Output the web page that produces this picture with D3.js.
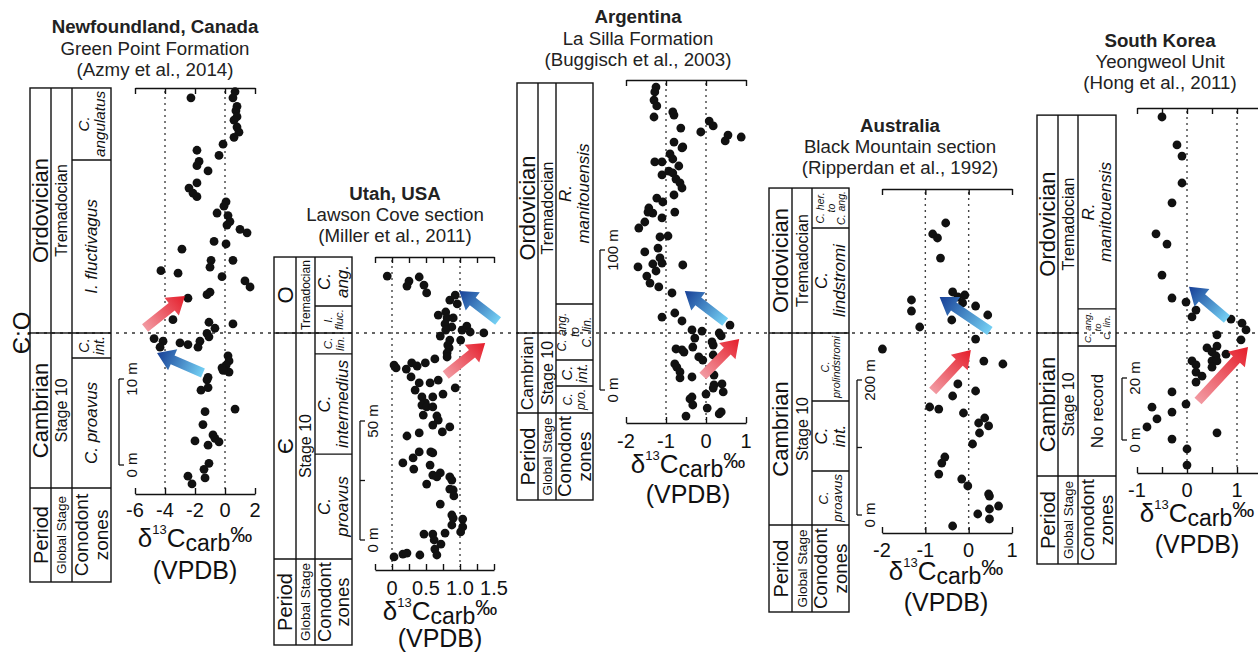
<!DOCTYPE html>
<html>
<head>
<meta charset="utf-8">
<script src="https://cdn.jsdelivr.net/npm/d3@7"></script>
<style>
  body { margin: 0; background: #fff; }
  svg { display: block; font-family: "Liberation Sans", Arial, Helvetica, sans-serif; }
</style>
</head>
<body>
<svg id="chart" width="1258" height="655"></svg>
<script>
// ---------------------------------------------------------------
// Carbon-isotope records across the Cambrian–Ordovician boundary.
// Each point: [stratigraphic height (m), δ13C carb (‰ VPDB)]
// ---------------------------------------------------------------

// Newfoundland, Green Point Formation
const nfTitle = ["Newfoundland, Canada", "Green Point Formation", "(Azmy et al., 2014)"];
const nfPoints = [
  [42.7,-2.27],[43.4,0.67],[42.7,0.53],[41.7,0.8],[41.2,0.73],[40.5,0.8],[40.1,0.6],[39.3,0.8],[38.7,0.93],[38.1,0.6],
  [37.3,-0.13],[36.0,-0.4],[36.6,-1.87],[35.3,-1.73],[34.8,-1.87],[34.2,-1.13],[32.8,-1.87],[32.2,-2.4],[31.6,-2.13],[31.2,-1.87],
  [30.6,0.07],[30.1,-0.07],[29.3,-0.53],[29.0,0.2],[28.3,0.33],[27.9,0.13],[27.4,1.0],[27.0,1.47],[26.0,-0.73],[25.7,0.07],
  [25.1,-2.87],[23.8,-0.93],[23.8,0.53],[23.0,-1.0],[22.6,-4.27],[22.3,-3.13],[21.9,-0.2],[21.4,1.33],[20.7,1.67],[20.1,-1.0],
  [19.8,-1.2],[19.4,-2.47],[16.9,-3.47],[16.6,-1.07],[16.4,0.53],[15.9,-0.67],[15.3,-1.2],[14.9,-1.07],[14.7,-4.73],[14.4,-4.13],
  [13.7,-4.33],[14.2,-3.0],[14.0,-2.47],[14.4,-1.67],[13.7,-1.8],[12.7,0.2],[12.1,0.27],[11.6,0.07],[11.3,-0.2],[10.8,0.27],
  [11.0,-0.13],[10.2,-1.13],[9.9,-1.2],[8.7,-1.6],[9.0,-1.13],[6.5,0.67],[6.2,-1.33],[4.7,-1.47],[3.5,-0.8],[3.1,-0.67],
  [2.7,-0.4],[2.8,-2.0],[2.3,-1.13],[0.2,-1.07],[-0.5,-1.4],[-1.5,-1.33],[-1.3,-2.47],[-2.2,-2.2]
];
const nfPeriods = [{ name: ["Ordovician"], top: 43.84, base: 15.35 }, { name: ["Cambrian"], top: 15.35, base: -2.67 }];
const nfStages = [{ name: ["Tremadocian"], top: 43.84, base: 15.35 }, { name: ["Stage 10"], top: 15.35, base: -2.67 }];
const nfZones = [
  { name: ["C.", "angulatus"], top: 43.84, base: 35.47 },
  { name: ["I. fluctivagus"], top: 35.47, base: 15.35 },
  { name: ["C.", "int."], top: 15.35, base: 12.44 },
  { name: ["C. proavus"], top: 12.44, base: -2.67 }
];
const nfTicks = [-6, -4, -2, 0, 2];
const nfTickLabels = [-6, -4, -2, 0, 2];
const nfGrid = [-4, 0];
const nfBar = [0, 10];
const nfArrows = [
  { shift: "positive", from: [15.93, -5.33], to: [19.65, -2.67] },
  { shift: "negative", from: [10.7, -1.47], to: [13.02, -4.53] }
];

// Utah, Lawson Cove section
const utTitle = ["Utah, USA", "Lawson Cove section", "(Miller et al., 2011)"];
const utPoints = [
  [110.9,-0.07],[108.8,0.25],[106.7,0.22],[110.5,0.40],[107.1,0.47],[103.8,0.51],[102.9,0.93],[100.8,0.85],[99.2,0.96],
  [94.5,0.68],[95.8,0.79],[93.3,0.81],[93.3,0.90],[90.8,0.78],[89.5,0.88],[88.2,0.79],[89.9,1.10],[88.2,1.03],[87.4,1.15],[87.0,1.35],
  [85.7,0.71],[84.0,0.85],[84.0,1.01],[81.9,0.82],[80.7,0.84],[78.6,0.81],[76.9,0.81],[76.1,0.63],
  [73.5,0.03],[72.3,0.06],[74.4,0.29],[71.8,0.21],[73.1,0.37],[74.4,0.49],[68.5,0.28],[66.0,0.40],[66.0,0.56],[67.2,0.68],[63.9,0.93],
  [63.0,0.34],[60.1,0.44],[60.1,0.60],[61.3,0.75],[57.6,0.49],[56.7,0.44],[55.9,0.51],[55.9,0.60],[52.5,0.46],[52.1,0.66],[50.4,0.68],
  [48.3,0.60],[47.5,0.85],[45.4,0.74],[45.0,0.40],[43.7,0.22],[37.0,0.40],[37.0,0.57],[36.6,0.60],[34.5,0.31],[32.4,0.16],[29.8,0.32],[31.5,0.56],
  [27.3,0.60],[28.2,0.71],[26.5,0.66],[26.5,0.85],[25.2,0.88],[23.5,0.51],[21.4,0.85],[21.0,0.90],[18.5,0.91],[15.1,0.71],
  [10.5,0.88],[9.2,0.90],[6.3,0.88],[8.8,1.04],[5.5,1.04],[3.4,1.01],[2.5,0.47],[2.5,0.60],[0,0.62],[2.9,0.78],[-1.7,0.72],[-3.8,0.63],[-6.3,0.66],
  [-7.1,0.03],[-5.9,0.16],[-5.5,0.22],[-6.3,0.41]
];
const utPeriods = [{ name: ["O"], top: 118.9, base: 86.97 }, { name: ["Є"], top: 86.97, base: -8.0 }];
const utStages = [{ name: ["Tremadocian"], top: 118.9, base: 86.97 }, { name: ["Stage 10"], top: 86.97, base: -8.0 }];
const utZones = [
  { name: ["C.", "ang."], top: 118.9, base: 98.3 },
  { name: ["I.", "fluc."], top: 98.3, base: 86.97 },
  { name: ["C.", "lin."], top: 86.97, base: 78.2 },
  { name: ["C.", "intermedius"], top: 78.2, base: 36.1 },
  { name: ["C.", "proavus"], top: 36.1, base: -8.0 }
];
const utTicks = [-0.25, 0, 0.25, 0.5, 0.75, 1, 1.25, 1.5];
const utTickLabels = [0, 0.5, 1, 1.5];
const utGrid = [0, 1];
const utBar = [0, 25, 50];
const utArrows = [
  { shift: "negative", from: [92.0, 1.56], to: [104.6, 0.99] },
  { shift: "positive", from: [69.3, 0.79], to: [82.8, 1.37] }
];

// Argentina, La Silla Formation
const arTitle = ["Argentina", "La Silla Formation", "(Buggisch et al., 2003)"];
const arPoints = [
  [216.4,-1.25],[212.9,-1.28],[207.1,-1.30],[202.9,-1.23],[195.0,-1.30],[198.6,-0.83],[196.4,-0.80],[187.1,-0.63],
  [192.1,0.08],[188.6,0.18],[184.3,-0.13],[182.1,0.55],[177.9,0.48],[180.7,0.88],[177.1,-0.80],[173.6,-0.58],[172.9,-0.60],
  [168.6,-0.90],[165.0,-0.83],[162.9,-1.28],[162.9,-1.10],[160.0,-0.68],[156.4,-0.93],[155.0,-0.83],[153.6,-1.10],[150.7,-0.75],
  [147.9,-0.65],[144.3,-0.60],[139.3,-0.80],[137.1,-1.23],[134.3,-1.08],[127.1,-0.78],[130.0,-1.43],[126.4,-1.33],[127.1,-1.45],
  [120.0,-1.53],[115.7,-1.68],[122.9,-1.10],[109.3,-1.15],[110.0,-0.95],[101.4,-1.20],[98.6,-1.53],[94.3,-1.15],[90.7,-1.10],
  [90.0,-1.33],[89.3,-0.58],[87.9,-1.70],[85.0,-1.25],[81.4,-1.48],[76.4,-1.40],[73.6,-1.18],[69.3,-0.85],
  [52.1,-1.10],[55.0,-0.78],[49.3,-0.60],[46.4,0.60],[42.9,-0.35],[42.1,-0.10],[40.7,0.33],[38.6,0.38],[37.1,-0.28],
  [34.3,0.15],[32.1,0.18],[29.3,-0.75],[28.6,-0.60],[27.1,-0.55],[30.7,-0.33],[23.6,-0.18],[21.4,-0.08],[25.0,0.18],
  [18.6,-0.78],[16.4,-0.73],[12.9,-0.65],[8.6,-0.65],[9.3,-0.35],[10.7,0.20],[3.6,0.20],[1.4,0.18],[4.3,0.40],[-1.4,0.43],
  [-5.0,-0.35],[-6.4,-0.40],[-10.7,-0.33],[-2.9,0.0],[-18.6,-0.50],[-12.9,0.03],[-15.7,0.38],[-17.1,0.33]
];
const arPeriods = [{ name: ["Ordovician"], top: 219.3, base: 40.71 }, { name: ["Cambrian"], top: 40.71, base: -16.4 }];
const arStages = [{ name: ["Tremadocian"], top: 219.3, base: 40.71 }, { name: ["Stage 10"], top: 40.71, base: -16.4 }];
const arZones = [
  { name: ["R.", "manitouensis"], top: 219.3, base: 61.4 },
  { name: ["C. ang.", "to", "C. lin."], top: 61.4, base: 21.4 },
  { name: ["C.", "int."], top: 21.4, base: 2.9 },
  { name: ["C.", "pro."], top: 2.9, base: -16.4 }
];
const arTicks = [-2, -1, 0, 1];
const arTickLabels = [-2, -1, 0, 1];
const arGrid = [-1, 0];
const arBar = [0, 100];
const arArrows = [
  { shift: "negative", from: [48.6, 0.48], to: [70.7, -0.53] },
  { shift: "positive", from: [10.0, -0.08], to: [36.4, 0.83] }
];

// Australia, Black Mountain section
const auTitle = ["Australia", "Black Mountain section", "(Ripperdan et al., 1992)"];
const auPoints = [
  [432.6,-0.53],[416.3,-0.83],[410.4,-0.72],[380.7,-0.65],[318.5,-1.32],[302.2,-1.32],[278.5,-1.13],
  [330.4,-0.37],[323.0,-0.25],[325.9,-0.09],[314.1,-0.14],[309.6,0.16],[296.3,0.44],[288.9,-0.39],
  [260.7,0.16],[245.9,-1.99],[228.1,0.35],[223.7,0.79],[194.1,-0.25],[183.7,0.16],[176.3,-0.37],
  [160.0,-0.90],[157.0,-0.69],[151.1,-0.12],[143.7,0.37],[136.3,0.23],[131.9,0.46],[121.5,0.25],[105.2,0.09],
  [85.9,-0.55],[77.0,-0.62],[60.7,-0.69],[53.3,-0.16],[43.0,-0.02],[31.1,0.46],[28.1,0.48],[13.3,0.69],
  [8.9,0.48],[1.5,0.21],[-5.9,0.48],[-16.3,-0.37]
];
const auPeriods = [{ name: ["Ordovician"], top: 484.4, base: 269.6 }, { name: ["Cambrian"], top: 269.6, base: -14.8 }];
const auStages = [{ name: ["Tremadocian"], top: 484.4, base: 269.6 }, { name: ["Stage 10"], top: 269.6, base: -14.8 }];
const auZones = [
  { name: ["C. her.", "to", "C. ang."], top: 484.4, base: 425.2 },
  { name: ["C.", "lindstromi"], top: 425.2, base: 269.6 },
  { name: ["C.", "prolindstromi"], top: 269.6, base: 168.9 },
  { name: ["C.", "int."], top: 168.9, base: 65.2 },
  { name: ["C.", "proavus"], top: 65.2, base: -14.8 }
];
const auTicks = [-2, -1, 0, 1];
const auTickLabels = [-2, -1, 0, 1];
const auGrid = [-1, 0];
const auBar = [0, 100, 200];
const auArrows = [
  { shift: "negative", from: [272.6, 0.49], to: [323.0, -0.67] },
  { shift: "positive", from: [183.7, -0.83], to: [244.4, 0.05] }
];

// South Korea, Yeongweol Unit
const koTitle = ["South Korea", "Yeongweol Unit", "(Hong et al., 2011)"];
const koPoints = [
  [104.2,-0.50],[95.2,-0.20],[91.6,-0.10],[82.9,-0.10],[76.5,-0.30],[66.5,-0.62],[63.2,-0.40],[53.2,-0.50],
  [45.8,-0.30],[44.5,-0.02],[41.9,0.18],[39.7,0.10],[39.0,0.88],[37.7,1.10],[35.5,1.18],[32.3,1.08],
  [33.9,0.60],[30.3,0.60],[29.7,0.40],[28.4,0.50],[27.7,0.78],[27.1,0.58],[25.5,0.50],[25.5,0.60],[23.5,0.50],
  [25.5,0.10],[24.2,0.18],[21.9,0.18],[20.6,0.30],[18.7,0.18],[15.5,-0.30],[11.6,-0.02],[10.6,-0.70],[9.0,-0.30],
  [6.8,-0.60],[4.2,-0.80],[2.3,0.60],[0.3,-0.30],[-2.9,0.0],[-8.1,0.0]
];
const koPeriods = [{ name: ["Ordovician"], top: 104.8, base: 34.52 }, { name: ["Cambrian"], top: 34.52, base: -11.6 }];
const koStages = [{ name: ["Tremadocian"], top: 104.8, base: 34.52 }, { name: ["Stage 10"], top: 34.52, base: -11.6 }];
const koZones = [
  { name: ["R.", "manitouensis"], top: 104.8, base: 42.3 },
  { name: ["C. ang.", "to", "C. lin."], top: 42.3, base: 30.3 },
  { name: ["No record"], top: 30.3, base: -11.6 }
];
const koTicks = [-1, -0.5, 0, 0.5, 1, 1.5];
const koTickLabels = [-1, 0, 1];
const koGrid = [0, 1];
const koBar = [0, 20];
const koArrows = [
  { shift: "negative", from: [39.0, 0.80], to: [49.4, 0.04] },
  { shift: "positive", from: [12.6, 0.22], to: [30.0, 1.22] }
];

const legendLabels = { period: ["Period"], stage: ["Global Stage"], zones: ["Conodont", "zones"] };
const boundaryLabel = "Є:O";

// ---------------------------------------------------------------
// Page layout for each section panel
// ---------------------------------------------------------------
const panels = [
  { title: nfTitle, titleX: 155, titleY: [33, 55, 76],
    points: nfPoints, periods: nfPeriods, stages: nfStages, zones: nfZones, arrows: nfArrows,
    ticks: nfTicks, tickLabels: nfTickLabels, grid: nfGrid, bar: nfBar,
    xDomain: [-6, 2], xRange: [135, 255], yDomain: [0, 10], yRange: [465, 379],
    axisTop: 88, axisBottom: 494, cols: [30, 51, 72, 111], legendBottom: 582, barX: 119,
    tickBase: 517, deltaBase: 547, vpdbBase: 579, labelX: 195, fmt: d => String(d) },
  { title: utTitle, titleX: 395, titleY: [200, 221, 242],
    points: utPoints, periods: utPeriods, stages: utStages, zones: utZones, arrows: utArrows,
    ticks: utTicks, tickLabels: utTickLabels, grid: utGrid, bar: utBar,
    xDomain: [-0.25, 1.5], xRange: [375, 494], yDomain: [0, 50], yRange: [540, 421],
    axisTop: 257, axisBottom: 570, cols: [274, 296, 315, 352], legendBottom: 645, barX: 360,
    tickBase: 595, deltaBase: 620, vpdbBase: 647, labelX: 440, fmt: d => d === 0 ? "0" : d.toFixed(1) },
  { title: arTitle, titleX: 638, titleY: [23, 45, 66],
    points: arPoints, periods: arPeriods, stages: arStages, zones: arZones, arrows: arArrows,
    ticks: arTicks, tickLabels: arTickLabels, grid: arGrid, bar: arBar,
    xDomain: [-2, 1], xRange: [626, 746], yDomain: [0, 100], yRange: [390, 250],
    axisTop: 80, axisBottom: 423, cols: [517, 538, 556, 593], legendBottom: 500, barX: 600,
    tickBase: 448, deltaBase: 473, vpdbBase: 503, labelX: 688, fmt: d => String(d) },
  { title: auTitle, titleX: 900, titleY: [132, 153, 174],
    points: auPoints, periods: auPeriods, stages: auStages, zones: auZones, arrows: auArrows,
    ticks: auTicks, tickLabels: auTickLabels, grid: auGrid, bar: auBar,
    xDomain: [-2, 1], xRange: [882, 1012], yDomain: [0, 200], yRange: [515, 380],
    axisTop: 189, axisBottom: 533, cols: [769, 792, 812, 849], legendBottom: 612, barX: 857,
    tickBase: 557, deltaBase: 580, vpdbBase: 611, labelX: 946, fmt: d => String(d) },
  { title: koTitle, titleX: 1160, titleY: [47, 68, 89],
    points: koPoints, periods: koPeriods, stages: koStages, zones: koZones, arrows: koArrows,
    ticks: koTicks, tickLabels: koTickLabels, grid: koGrid, bar: koBar,
    xDomain: [-1, 1.5], xRange: [1137, 1262], yDomain: [0, 20], yRange: [440, 378],
    axisTop: 108, axisBottom: 473, cols: [1037, 1058, 1078, 1116], legendBottom: 564, barX: 1122,
    tickBase: 497, deltaBase: 522, vpdbBase: 553, labelX: 1197, fmt: d => String(d) }
];

const uprightZones = new Set(["No record"]);
const INK = "#111";

const svg = d3.select("#chart");
const defs = svg.append("defs");

function gradient(id, from, to) {
  const g = defs.append("linearGradient").attr("id", id)
    .attr("x1", 0).attr("y1", 0).attr("x2", 1).attr("y2", 0);
  g.append("stop").attr("offset", 0).attr("stop-color", from);
  g.append("stop").attr("offset", 1).attr("stop-color", to);
}
gradient("shiftPositive", "#f29aa2", "#e51d2a");
gradient("shiftNegative", "#74d0f4", "#173f96");

// Rotated (bottom-to-top) label centred in a box; shrinks to fit the box height.
function verticalLabel(g, cx, cy, lines, size, maxLen, italic) {
  const probe = lines.map(t => g.append("text")
    .attr("font-size", size).attr("font-style", italic ? "italic" : null).text(t));
  const longest = d3.max(probe, p => p.node().getComputedTextLength());
  probe.forEach(p => p.remove());
  const fs = longest > maxLen ? size * maxLen / longest : size;
  const gap = fs * 1.02;
  lines.forEach((t, i) => {
    const dx = (i - (lines.length - 1) / 2) * gap;
    g.append("text")
      .attr("transform", `translate(${cx + dx},${cy}) rotate(-90)`)
      .attr("text-anchor", "middle")
      .attr("dominant-baseline", "central")
      .attr("font-size", fs)
      .attr("font-style", italic ? "italic" : null)
      .attr("fill", INK)
      .text(t);
  });
}

// Boundary line shared by all sections (base of the Ordovician)
const boundaryY = d3.scaleLinear().domain(panels[0].yDomain).range(panels[0].yRange)(nfPeriods[1].top);
svg.append("line")
  .attr("x1", 28).attr("x2", 1258).attr("y1", boundaryY).attr("y2", boundaryY)
  .attr("stroke", "#333").attr("stroke-width", 1.4).attr("stroke-dasharray", "3,5");

svg.append("text")
  .attr("transform", `translate(21,${boundaryY}) rotate(-90)`)
  .attr("text-anchor", "middle").attr("dominant-baseline", "central")
  .attr("font-size", 24).attr("fill", INK).text(boundaryLabel);

panels.forEach(p => {
  const g = svg.append("g");
  const x = d3.scaleLinear().domain(p.xDomain).range(p.xRange);
  const y = d3.scaleLinear().domain(p.yDomain).range(p.yRange);

  // Title block
  p.title.forEach((t, i) => {
    g.append("text").attr("x", p.titleX).attr("y", p.titleY[i])
      .attr("text-anchor", "middle").attr("font-size", 18.7)
      .attr("font-weight", i === 0 ? "bold" : null).attr("fill", "#222").text(t);
  });

  // Stratigraphic column
  const [c0, c1, c2, c3] = p.cols;
  const colTop = y(p.periods[0].top);
  const colBase = y(p.periods[p.periods.length - 1].base);
  const col = g.append("g").attr("stroke", INK).attr("stroke-width", 1.4).attr("fill", "none");
  col.append("rect").attr("x", c0).attr("y", colTop).attr("width", c3 - c0).attr("height", p.legendBottom - colTop);
  [c1, c2].forEach(cx => col.append("line").attr("x1", cx).attr("x2", cx).attr("y1", colTop).attr("y2", p.legendBottom));
  col.append("line").attr("x1", c0).attr("x2", c3).attr("y1", colBase).attr("y2", colBase);

  const columns = [
    { rows: p.periods, a: c0, b: c1, size: 22, italic: false },
    { rows: p.stages, a: c1, b: c2, size: 16, italic: false },
    { rows: p.zones, a: c2, b: c3, size: 17, italic: true }
  ];
  columns.forEach(c => {
    c.rows.forEach((r, i) => {
      if (i > 0) {
        const yy = y(r.top);
        col.append("line").attr("x1", c.a).attr("x2", c.b).attr("y1", yy).attr("y2", yy);
      }
      const yt = y(r.top), yb = y(r.base);
      const size = r.name.length > 2 ? 12 : c.size;
      const italic = c.italic && !uprightZones.has(r.name.join(" "));
      verticalLabel(g, (c.a + c.b) / 2, (yt + yb) / 2, r.name, size, (yb - yt) - 6, italic);
    });
  });

  // Legend cells beneath the column
  const legMid = (colBase + p.legendBottom) / 2;
  const legLen = p.legendBottom - colBase - 6;
  verticalLabel(g, (c0 + c1) / 2, legMid, legendLabels.period, 20, legLen, false);
  verticalLabel(g, (c1 + c2) / 2, legMid, legendLabels.stage, 13.5, legLen, false);
  verticalLabel(g, (c2 + c3) / 2, legMid, legendLabels.zones, 19, legLen, false);

  // Thickness scale bar
  const bar = g.append("g").attr("stroke", INK).attr("stroke-width", 1.3);
  bar.append("line").attr("x1", p.barX).attr("x2", p.barX)
    .attr("y1", y(d3.min(p.bar))).attr("y2", y(d3.max(p.bar)));
  p.bar.forEach(v => bar.append("line").attr("x1", p.barX).attr("x2", p.barX + 5)
    .attr("y1", y(v)).attr("y2", y(v)));
  [d3.min(p.bar), d3.max(p.bar)].forEach(v => {
    g.append("text")
      .attr("transform", `translate(${p.barX + 12},${y(v)}) rotate(-90)`)
      .attr("text-anchor", "middle").attr("dominant-baseline", "central")
      .attr("font-size", 15).attr("fill", INK).text(`${v} m`);
  });

  // Dotted reference lines
  g.append("g").selectAll("line").data(p.grid).join("line")
    .attr("x1", d => x(d)).attr("x2", d => x(d))
    .attr("y1", p.axisTop + 3).attr("y2", p.axisBottom - 3)
    .attr("stroke", "#444").attr("stroke-width", 1.4).attr("stroke-dasharray", "2,4");

  // Axes (top and bottom, ticks pointing inward)
  const topAxis = g.append("g").attr("transform", `translate(0,${p.axisTop})`)
    .call(d3.axisBottom(x).tickValues(p.ticks).tickFormat("").tickSizeInner(6).tickSizeOuter(0));
  const botAxis = g.append("g").attr("transform", `translate(0,${p.axisBottom})`)
    .call(d3.axisTop(x).tickValues(p.ticks).tickFormat("").tickSizeInner(6).tickSizeOuter(0));
  [topAxis, botAxis].forEach(a => {
    a.selectAll("path, line").attr("stroke", INK).attr("stroke-width", 1.4);
  });

  g.append("g").selectAll("text").data(p.tickLabels).join("text")
    .attr("x", d => x(d)).attr("y", p.tickBase)
    .attr("text-anchor", "middle").attr("font-size", 20).attr("fill", INK)
    .text(p.fmt);

  // Axis title: δ13Ccarb‰ (VPDB)
  const t = g.append("text").attr("x", p.labelX).attr("y", p.deltaBase)
    .attr("text-anchor", "middle").attr("font-size", 26).attr("fill", INK);
  t.append("tspan").text("δ");
  t.append("tspan").attr("font-size", 13).attr("dy", -13).text("13");
  t.append("tspan").attr("font-size", 26).attr("dy", 13).text("C");
  t.append("tspan").attr("font-size", 23).attr("dy", 4).text("carb");
  t.append("tspan").attr("font-size", 22).attr("dy", -9).text("‰");
  g.append("text").attr("x", p.labelX).attr("y", p.vpdbBase)
    .attr("text-anchor", "middle").attr("font-size", 25).attr("fill", INK).text("(VPDB)");

  // Sample points
  g.append("g").selectAll("circle").data(p.points).join("circle")
    .attr("cx", d => x(d[1])).attr("cy", d => y(d[0])).attr("r", 4.4).attr("fill", INK);

  // Excursion arrows
  p.arrows.forEach(a => {
    const x0 = x(a.from[1]), y0 = y(a.from[0]);
    const x1 = x(a.to[1]), y1 = y(a.to[0]);
    const len = Math.hypot(x1 - x0, y1 - y0);
    const ang = Math.atan2(y1 - y0, x1 - x0) * 180 / Math.PI;
    const w = 4.8, hw = 11.5, hl = 17;
    const path = `M0,${-w} L${len - hl},${-w} L${len - hl},${-hw} L${len},0 L${len - hl},${hw} L${len - hl},${w} L0,${w} Z`;
    g.append("path")
      .attr("transform", `translate(${x0},${y0}) rotate(${ang})`)
      .attr("d", path)
      .attr("fill", a.shift === "positive" ? "url(#shiftPositive)" : "url(#shiftNegative)");
  });
});
</script>
</body>
</html>
